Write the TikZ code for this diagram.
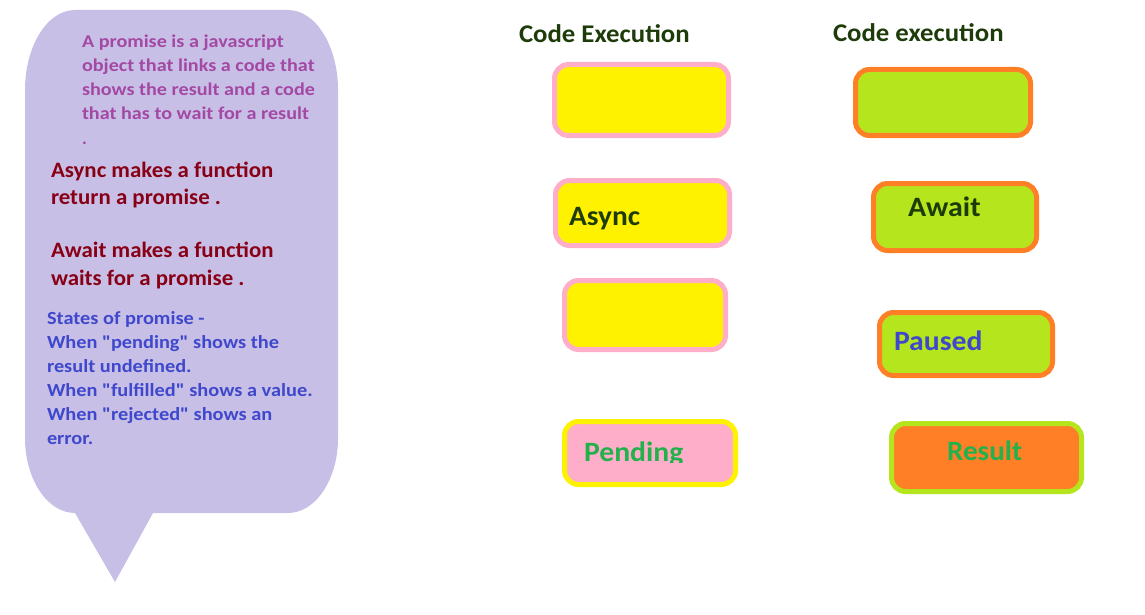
\documentclass[tikz,border=0pt]{standalone}
\usepackage{fontspec}
\setmainfont{Carlito}
\definecolor{bubble}{HTML}{C8BFE7}
\definecolor{ppurple}{HTML}{A349A4}
\definecolor{dred}{HTML}{880015}
\definecolor{pblue}{HTML}{3F48CC}
\definecolor{dgreen}{HTML}{1E3C0A}
\definecolor{pgreen}{HTML}{22B14C}
\definecolor{yel}{HTML}{FFF200}
\definecolor{pink}{HTML}{FFAEC9}
\definecolor{orng}{HTML}{FF7F27}
\definecolor{lime}{HTML}{B5E61D}
\newcommand{\hstr}[2]{\scalebox{#1}[1]{#2}}
\newcommand{\q}{\textquotedbl{}}
\tikzset{
  every node/.style={inner sep=0pt, outer sep=0pt},
  txt/.style={anchor=base west, font=\bfseries},
  p1/.style={txt, text=ppurple, font=\bfseries\fontsize{18}{24}\selectfont},
  p2/.style={txt, text=dred, font=\bfseries\fontsize{22}{28}\selectfont},
  p4/.style={txt, text=pblue, font=\bfseries\fontsize{18.5}{24}\selectfont},
  hdr/.style={txt, text=dgreen, font=\bfseries\fontsize{25.5}{30}\selectfont},
  lbl/.style={txt, font=\bfseries\fontsize{28}{30}\selectfont},
  box/.style={rounded corners=14pt, line width=5pt},
  ybox/.style={box, draw=pink, fill=yel},
  gbox/.style={box, draw=orng, fill=lime},
  pbox/.style={box, draw=yel, fill=pink},
  obox/.style={box, draw=lime, fill=orng},
}
\begin{document}
\begin{tikzpicture}[x=1pt,y=-1pt]
\useasboundingbox (0,0) rectangle (1145,615);
% speech bubble
\fill[bubble] (25,90) .. controls (25,45.8) and (47.4,10) .. (75,10)
  -- (288,10) .. controls (315.6,10) and (338,45.8) .. (338,90)
  -- (338,438) .. controls (338,479.4) and (315.6,513) .. (288,513)
  -- (153,513) -- (115,582) -- (75,513)
  .. controls (47.4,513) and (25,479.4) .. (25,438) -- cycle;
% paragraph 1
\node[p1] (a1) at (82,48) {\hstr{1.12}{A promise is a javascript}};
\node[p1] (a2) at (82,72) {\hstr{1.12}{object that links a code that}};
\node[p1] (a3) at (82,96) {\hstr{1.12}{shows the result and a code}};
\node[p1] (a4) at (82,120) {\hstr{1.12}{that has to wait for a result}};
\node[p1] (a5) at (82,144) {.};
% paragraphs 2 and 3
\node[p2] (b1) at (51,177) {\hstr{1.04}{Async makes a function}};
\node[p2] (b2) at (51,204.5) {\hstr{1.04}{return a promise .}};
\node[p2] (c1) at (51,257) {\hstr{1.04}{Await makes a function}};
\node[p2] (c2) at (51,285) {\hstr{1.04}{waits for a promise .}};
% paragraph 4
\node[p4] (d1) at (47,324) {\hstr{1.1}{States of promise -}};
\node[p4] (d2) at (47,348) {\hstr{1.1}{When \q pending\q{} shows the}};
\node[p4] (d3) at (47,372) {\hstr{1.1}{result undefined.}};
\node[p4] (d4) at (47,396) {\hstr{1.1}{When \q fulfilled\q{} shows a value.}};
\node[p4] (d5) at (47,420) {\hstr{1.1}{When \q rejected\q{} shows an}};
\node[p4] (d6) at (47,444) {\hstr{1.1}{error.}};
% headers
\node[hdr] (h1) at (519,43) {\hstr{1.05}{Code Execution}};
\node[hdr] (h2) at (833,42) {\hstr{1.05}{Code execution}};
% left column boxes
\node[ybox, minimum width=174pt, minimum height=71pt] (l1) at (641.5,100) {};
\node[ybox, minimum width=174pt, minimum height=65pt] (l2) at (642.5,213) {};
\node[ybox, minimum width=161pt, minimum height=69pt] (l3) at (645,315) {};
\node[pbox, minimum width=171pt, minimum height=63pt] (l4) at (650,453) {};
% right column boxes
\node[gbox, minimum width=175pt, minimum height=66pt] (r1) at (943,102.5) {};
\node[gbox, minimum width=163pt, minimum height=67pt] (r2) at (955,217) {};
\node[gbox, minimum width=173pt, minimum height=63pt] (r3) at (966,344) {};
\node[obox, minimum width=190pt, minimum height=68pt] (r4) at (986.5,457.5) {};
% box labels
\node[lbl, text=dgreen] (t2) at (569,225) {\hstr{1.05}{Async}};
\node[lbl, text=dgreen] (t5) at (908,216) {\hstr{1.07}{Await}};
\node[lbl, text=pblue] (t6) at (894,350) {\hstr{1.06}{Paused}};
\begin{scope}
\clip (560,415) rectangle (740,462);
\node[lbl, text=pgreen] (t4) at (584,461) {\hstr{1.06}{Pending}};
\end{scope}
\node[lbl, text=pgreen] (t8) at (947,460) {\hstr{1.04}{Result}};
\end{tikzpicture}
\end{document}
